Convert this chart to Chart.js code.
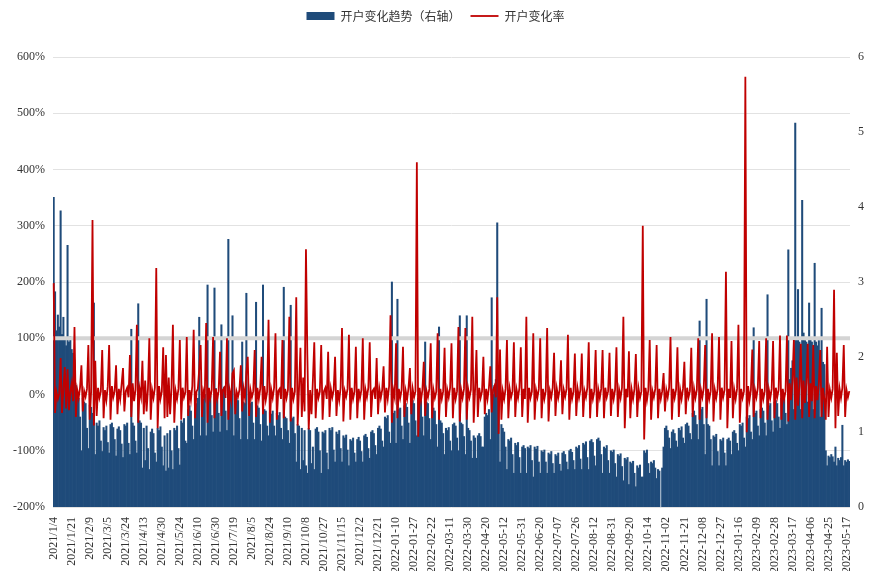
<!DOCTYPE html>
<html>
<head>
<meta charset="utf-8">
<script src="https://cdn.jsdelivr.net/npm/chart.js@4.4.1/dist/chart.umd.min.js"></script>
<style>
  body { margin: 0; background: #fff; }
  #wrap { width: 871px; height: 571px; }
</style>
</head>
<body>
<div id="wrap"><canvas id="chart"></canvas></div>
<script>
// x-axis: one label every 13 trading days, 2021-01-04 .. 2023-05-19
const tickLabels = [
  "2021/1/4", "2021/1/21", "2021/2/9", "2021/3/5", "2021/3/24", "2021/4/13", "2021/4/30",
  "2021/5/24", "2021/6/10", "2021/6/30", "2021/7/19", "2021/8/5", "2021/8/24", "2021/9/10",
  "2021/10/8", "2021/10/27", "2021/11/15", "2021/12/2", "2021/12/21", "2022-01-10", "2022-01-27",
  "2022-02-22", "2022-03-11", "2022-03-30", "2022-04-20", "2022-05-12", "2022-05-31", "2022-06-20",
  "2022-07-07", "2022-07-26", "2022-08-12", "2022-08-31", "2022-09-20", "2022-10-14", "2022-11-02",
  "2022-11-21", "2022-12-08", "2022-12-27", "2023-01-16", "2023-02-09", "2023-02-28", "2023-03-17",
  "2023-04-06", "2023-04-25", "2023-05-17"
];
const tickEvery = 13;

// 开户变化趋势（右轴）, one value per trading day, grouped by trading week
const openTrend = [
  4.13, 2.87, 2.35, 2.56, 2.40,  3.95, 2.30, 2.53, 2.25, 2.15,  3.49, 2.20, 2.27, 2.10, 2.05,
  1.96, 1.62, 1.50, 1.45, 1.20,  0.75, 1.45, 1.40, 1.38, 1.05,  0.78, 1.36, 1.33,  1.25, 2.72,
  0.70, 1.12, 1.08, 1.15, 0.88,  0.74, 1.06, 1.02, 1.08, 0.86,  0.72, 1.10, 1.12, 1.06, 0.90,
  0.68, 1.04, 1.07, 1.02, 0.84,  0.66, 1.10, 1.08, 1.12, 0.85,  0.70, 2.37, 1.12, 1.08, 0.88,
  0.72, 2.71, 1.15, 1.12,  0.52, 1.05, 0.62, 1.08, 0.78,  0.50, 1.00, 1.04, 0.98, 0.72,
  0.60, 1.05, 1.02, 1.07, 0.80,  0.55, 0.95,  0.48, 0.98, 0.52, 1.02, 0.75,
  0.50, 1.05, 1.02, 1.08, 0.78,  0.56, 1.15, 1.12, 1.18, 0.88,  0.85, 1.30, 1.35, 1.28, 1.08,
  0.90, 1.42, 1.38, 1.45, 2.53,  0.95, 1.48, 1.44, 1.50,  0.95, 2.96, 1.52, 1.48, 1.22,
  1.00, 2.92, 1.58, 1.52, 1.25,  1.00, 2.43, 1.56, 1.60, 1.28,  1.02, 3.57, 1.52, 1.48, 2.55,
  0.95, 1.48, 1.45, 1.42, 1.18,  0.90, 2.20, 1.40, 1.38, 2.85,  0.90, 1.42, 1.38, 1.40, 1.12,
  0.90, 2.73, 1.35, 1.32, 1.10,  0.88, 2.96, 1.30, 1.28, 1.08,  0.95, 1.26, 1.24, 1.28, 1.08,
  0.95, 1.25, 1.22, 1.26, 1.05,  0.90, 2.93, 1.20, 1.18, 1.02,  0.85, 2.69, 1.18, 1.20, 0.98,
  0.60, 1.10, 1.08,  0.50, 1.05, 0.62, 1.02,  0.55,
  0.45, 1.05, 1.02, 0.58, 0.80,  0.50, 1.04, 1.06, 1.00, 0.75,  0.45, 1.00, 0.98, 1.02, 0.72,
  0.50, 1.05, 1.02, 1.06, 0.76,  0.60, 1.00, 0.97, 1.02, 0.78,  0.60, 0.95, 0.92, 0.96, 0.76,
  0.55, 0.90, 0.88, 0.92, 0.72,  0.60, 0.90, 0.93, 0.88, 0.74,  0.60, 0.95, 0.97, 0.93, 0.78,
  0.65, 1.00, 1.02, 0.98, 0.82,  0.70, 1.05, 1.08, 1.04, 0.88,  0.80, 1.20, 1.18, 1.22, 1.00,
  // 2022
  0.85, 3.00, 1.25, 1.28,  0.85, 2.77, 1.30, 1.32, 1.08,  0.90, 1.35, 1.38, 1.33, 1.12,
  0.85, 1.40, 1.42, 1.38, 1.15,  0.95, 1.45, 1.48, 1.42, 1.20,  0.95, 2.20, 1.40, 1.38, 1.18,
  0.90, 1.30, 1.32, 1.28, 1.10,  0.80, 2.40, 1.15, 1.12, 0.98,  0.70, 1.05, 1.02, 1.06, 0.88,
  0.75, 1.10, 1.12, 1.08, 0.92,  0.75, 2.55, 1.12, 1.10, 0.94,  0.70, 2.55, 1.05, 1.02, 0.88,
  0.65, 0.95, 0.92,  0.65, 0.95, 0.98, 0.94, 0.80,  0.80, 1.20, 1.25, 1.22, 1.30,
  0.90, 2.79, 1.50, 1.62, 1.70,  3.79, 1.60,
  0.60, 1.10, 1.05, 1.00, 0.80,  0.50, 0.90, 0.88, 0.92, 0.70,  0.45, 0.85, 0.82, 0.86, 0.66,
  0.45, 0.80, 0.82, 0.78,  0.45, 0.80, 0.78, 0.82, 0.62,  0.40, 0.80, 0.77, 0.81, 0.60,
  0.45, 0.75, 0.73, 0.76, 0.60,  0.45, 0.72, 0.70, 0.74, 0.58,  0.45, 0.70, 0.68, 0.72, 0.57,
  0.48, 0.72, 0.74, 0.70, 0.60,  0.50, 0.75, 0.77, 0.73, 0.62,  0.50, 0.80, 0.78, 0.82, 0.64,
  0.50, 0.85, 0.83, 0.87, 0.66,  0.50, 0.88, 0.90, 0.86, 0.68,  0.55, 0.90, 0.92, 0.88, 0.70,
  0.45, 0.80, 0.78, 0.82, 0.62,  0.45, 0.75, 0.73, 0.76, 0.58,  0.40, 0.70, 0.68, 0.71, 0.54,
  0.35, 0.65, 0.63, 0.66,  0.30, 0.60, 0.58, 0.61, 0.45,  0.27, 0.55, 0.52, 0.56, 0.40,
  0.40, 0.75, 0.72, 0.76, 0.58,  0.45, 0.60, 0.58, 0.62, 0.52,  0.38, 0.50, 0.48, null, 0.52,
  0.80, 1.05, 1.08, 1.02, 0.92,  0.78, 1.00, 1.03, 0.98, 0.88,  0.80, 1.05, 1.02, 1.07, 0.92,
  0.85, 1.10, 1.12, 1.08, 0.98,  0.90, 1.25, 1.28, 1.22, 1.10,  0.90, 2.48, 1.30, 1.33, 1.10,
  0.70, 2.77, 1.10, 1.08, 0.90,  0.55, 0.95, 0.93, 0.97, 0.74,  0.55, 0.90, 0.88, 0.92, 0.72,
  // 2023
  0.55, 0.90, 0.92, 0.88,  0.70, 1.00, 1.02, 0.98, 0.85,  0.75, 1.10, 1.08, 1.12, 0.92,
  0.80, 1.20, 1.18, 1.22, 1.00,  0.90, 2.39, 1.25, 1.28, 1.08,  0.95, 1.30, 1.32, 1.28, 1.12,
  0.95, 2.83, 1.35, 1.38, 1.15,  1.00, 1.40, 1.42, 1.38, 1.20,  1.05, 1.45, 1.48, 1.44, 1.25,
  1.10, 3.43, 1.70, 1.85, 1.95,  1.30, 5.12, 2.25, 2.90, 2.20,  1.30, 4.09, 2.32, 2.22, 2.20,
  1.40, 2.72, 2.25, 2.20,  1.30, 3.25, 2.20, 2.15, 2.22,  1.20, 2.65, 1.93, 1.90, 0.75,
  0.55, 0.68, 0.66, 0.70, 0.67,  0.60, 0.80,  0.55, 0.65, 0.62, 0.66, 1.09,  0.55, 0.62, 0.60, 0.63, 0.61
];

// 开户变化率 (%), same trading days
const openRate = [
  198, -33, 4, -8, 2,  65, -33, 10, 49, -25,  45, -28, 5, 20, -12,
  120, -40, 8, -6, 12,  52, -30, 6, -4, 10,  88, -45, 5,  310, -55,
  60, -38, 12, -6, 5,  79, -42, 8, -10, 14,  88, -45, 15, -5, 6,
  52, -35, 10, -8, 18,  47, -30, 6, 12, -5,  70, -40, 20, -12, 8,
  124, -50, 10, -4,  60, -35, 25, -30, 10,  100, -45, 8, -6, 12,
  225, -60, 15, -8, 5,  84, -42,  70, -40, 30, -35, 12,
  124, -50, 6, -8, 10,  97, -45, 12, -5, 4,  102, -38, 8, -10, 15,
  115, -42, 5, 10, 45,  88, -40, 6, -4,  127, -50, 12, -6, 8,
  102, -42, 10, -8, 6,  76, -38, 8, 12, -6,  100, -45, 6, -10, 38,
  43, -35, 5, -4, 8,  52, -30, 10, -6, 40,  67, -38, 8, -5, 6,
  79, -40, 12, -8, 10,  67, -35, 15, -10, 5,  133, -50, 8, -6, 12,
  109, -45, 6, 10, -8,  97, -42, 10, -6, 8,  138, -48, 12, -8, 5,
  173, -55, 10,  83, -40, 30, -30,  258,
  70, -62, 8, -35, 25,  93, -42, 10, -6, 5,  88, -45, 6, 12, -8,
  76, -40, 10, -5, 8,  67, -38, 8, -10, 12,  118, -48, 6, -4, 10,
  106, -45, 12, -8, 5,  85, -42, 10, -6, 8,  100, -45, 8, -5, 12,
  93, -40, 6, 10, -8,  65, -35, 10, -6, 8,  50, -32, 12, -8, 15,
  // 2022
  141, -50, 8, -5,  91, -42, 10, -6, 8,  85, -40, 6, -8, 12,
  47, -35, 10, -5, 6,  413, -75, 12, -10, 8,  58, -38, 6, -5, 10,
  91, -42, 8, -6, 5,  109, -45, 10, -8, 6,  83, -40, 8, -5, 12,
  91, -42, 12, -8, 6,  120, -48, 8, -6, 10,  118, -45, 10, -5, 8,
  138, -50, 8,  79, -40, 12, -6, 5,  67, -35, 10, -8, 12,
  50, -32, 8, 15, -5,  173, -70,
  80, -45, 6, -8, 10,  97, -42, 10, -5, 6,  93, -40, 8, -6, 12,
  84, -40, 10, -8,  138, -50, 12, -6, 5,  109, -45, 8, -5, 10,
  100, -42, 10, -8, 6,  118, -48, 6, -5, 12,  74, -38, 10, -6, 8,
  61, -35, 8, -4, 10,  106, -45, 12, -8, 5,  73, -38, 10, -6, 8,
  73, -40, 6, -5, 12,  93, -42, 10, -8, 6,  79, -40, 8, -6, 10,
  79, -42, 12, -5, 6,  74, -38, 10, -8, 8,  84, -40, 8, -6, 12,
  138, -60, 10, -5,  77, -42, 8, -8, 10,  72, -40, 10, -6, 6,
  300, -80, 12, -10, 8,  97, -45, 6, -5, 10,  88, -42, 10, -8, 6,
  38, -30, 8, -5, 12,  102, -45, 10, -6, 8,  84, -40, 8, -8, 10,
  58, -35, 12, -5, 6,  83, -40, 10, -6, 8,  100, -45, 8, -5, 12,
  88, -42, 10, -8, 6,  109, -48, 8, -6, 10,  102, -45, 12, -5, 8,
  // 2023
  218, -60, 10, -6,  95, -42, 8, -8, 10,  124, -50, 10, -6, 6,
  565, -67, 15, -10, 8,  80, -40, 8, -5, 12,  95, -42, 10, -8, 6,
  100, -45, 8, -6, 10,  95, -42, 12, -5, 8,  105, -45, 10, -8, 6,
  105, -48, 20, -10, 25,  97, -45, 30, -20, 15,  90, -42, 25, -15, 20,
  90, -40, 20, -12,  88, -42, 15, -10, 18,  79, -40, 12, -8, -45,
  85, -40, 8, -6, 10,  186, -60,  74, -38, 10, -6, 12,  88, -40, 8, -5, 6
];

const refLevel = 100; // grey reference line on the left axis

const labels = openTrend.map((_, i) => (i % tickEvery === 0 ? tickLabels[i / tickEvery] : ""));

const tickFont = { family: '"Liberation Serif", "Times New Roman", serif', size: 12 };
const textColor = "#333";

// grey 100% line: above the bars, under the red line
const refLine = {
  id: "refLine",
  beforeDatasetDraw(chart, args) {
    if (args.meta.type !== "line") return;
    const { ctx, chartArea } = chart;
    const y = chart.scales.y.getPixelForValue(refLevel);
    ctx.save();
    ctx.strokeStyle = "#d4d4d4";
    ctx.lineWidth = 4;
    ctx.beginPath();
    ctx.moveTo(chartArea.left, y);
    ctx.lineTo(chartArea.right, y);
    ctx.stroke();
    ctx.restore();
  },
};

// fixed legend height so the plot starts where the reference does
const legendHeight = {
  id: "legendHeight",
  beforeInit(chart) {
    const fit = chart.legend.fit;
    chart.legend.fit = function () {
      fit.call(this);
      this.height = 57;
    };
  },
};

new Chart(document.getElementById("chart"), {
  type: "bar",
  data: {
    labels: labels,
    datasets: [
      {
        type: "bar",
        label: "开户变化趋势（右轴）",
        data: openTrend,
        yAxisID: "y1",
        backgroundColor: "#1f4b7a",
        borderWidth: 0,
        barPercentage: 1,
        categoryPercentage: 1,
        pointStyle: "rect",
        order: 2,
      },
      {
        type: "line",
        label: "开户变化率",
        data: openRate,
        yAxisID: "y",
        borderColor: "#c00000",
        backgroundColor: "#c00000",
        borderWidth: 1.8,
        pointRadius: 0,
        tension: 0,
        pointStyle: "line",
        order: 1,
      },
    ],
  },
  options: {
    responsive: true,
    maintainAspectRatio: false,
    animation: false,
    layout: { padding: 0 },
    plugins: {
      legend: {
        position: "top",
        labels: {
          usePointStyle: true,
          pointStyleWidth: 28,
          boxHeight: 8,
          padding: 10,
          color: textColor,
          font: { family: '"Noto Sans CJK SC", sans-serif', size: 12 },
          sort: (a, b) => a.datasetIndex - b.datasetIndex,
        },
      },
      tooltip: { enabled: false },
    },
    scales: {
      x: {
        grid: { display: false },
        border: { display: false },
        ticks: {
          autoSkip: false,
          minRotation: 90,
          maxRotation: 90,
          padding: 2,
          font: tickFont,
          color: textColor,
        },
        afterFit: (s) => { s.height = 64; },
      },
      y: {
        position: "left",
        min: -200,
        max: 600,
        ticks: { stepSize: 100, padding: 8, font: tickFont, color: textColor, callback: (v) => v + "%" },
        grid: { color: "#e2e2e2", drawTicks: false },
        border: { display: false },
        afterFit: (s) => { s.width = 53; },
      },
      y1: {
        position: "right",
        min: 0,
        max: 6,
        ticks: { stepSize: 1, padding: 8, font: tickFont, color: textColor },
        grid: { display: false, drawTicks: false },
        border: { display: false },
        afterFit: (s) => { s.width = 21; },
      },
    },
  },
  plugins: [refLine, legendHeight],
});
</script>
</body>
</html>
